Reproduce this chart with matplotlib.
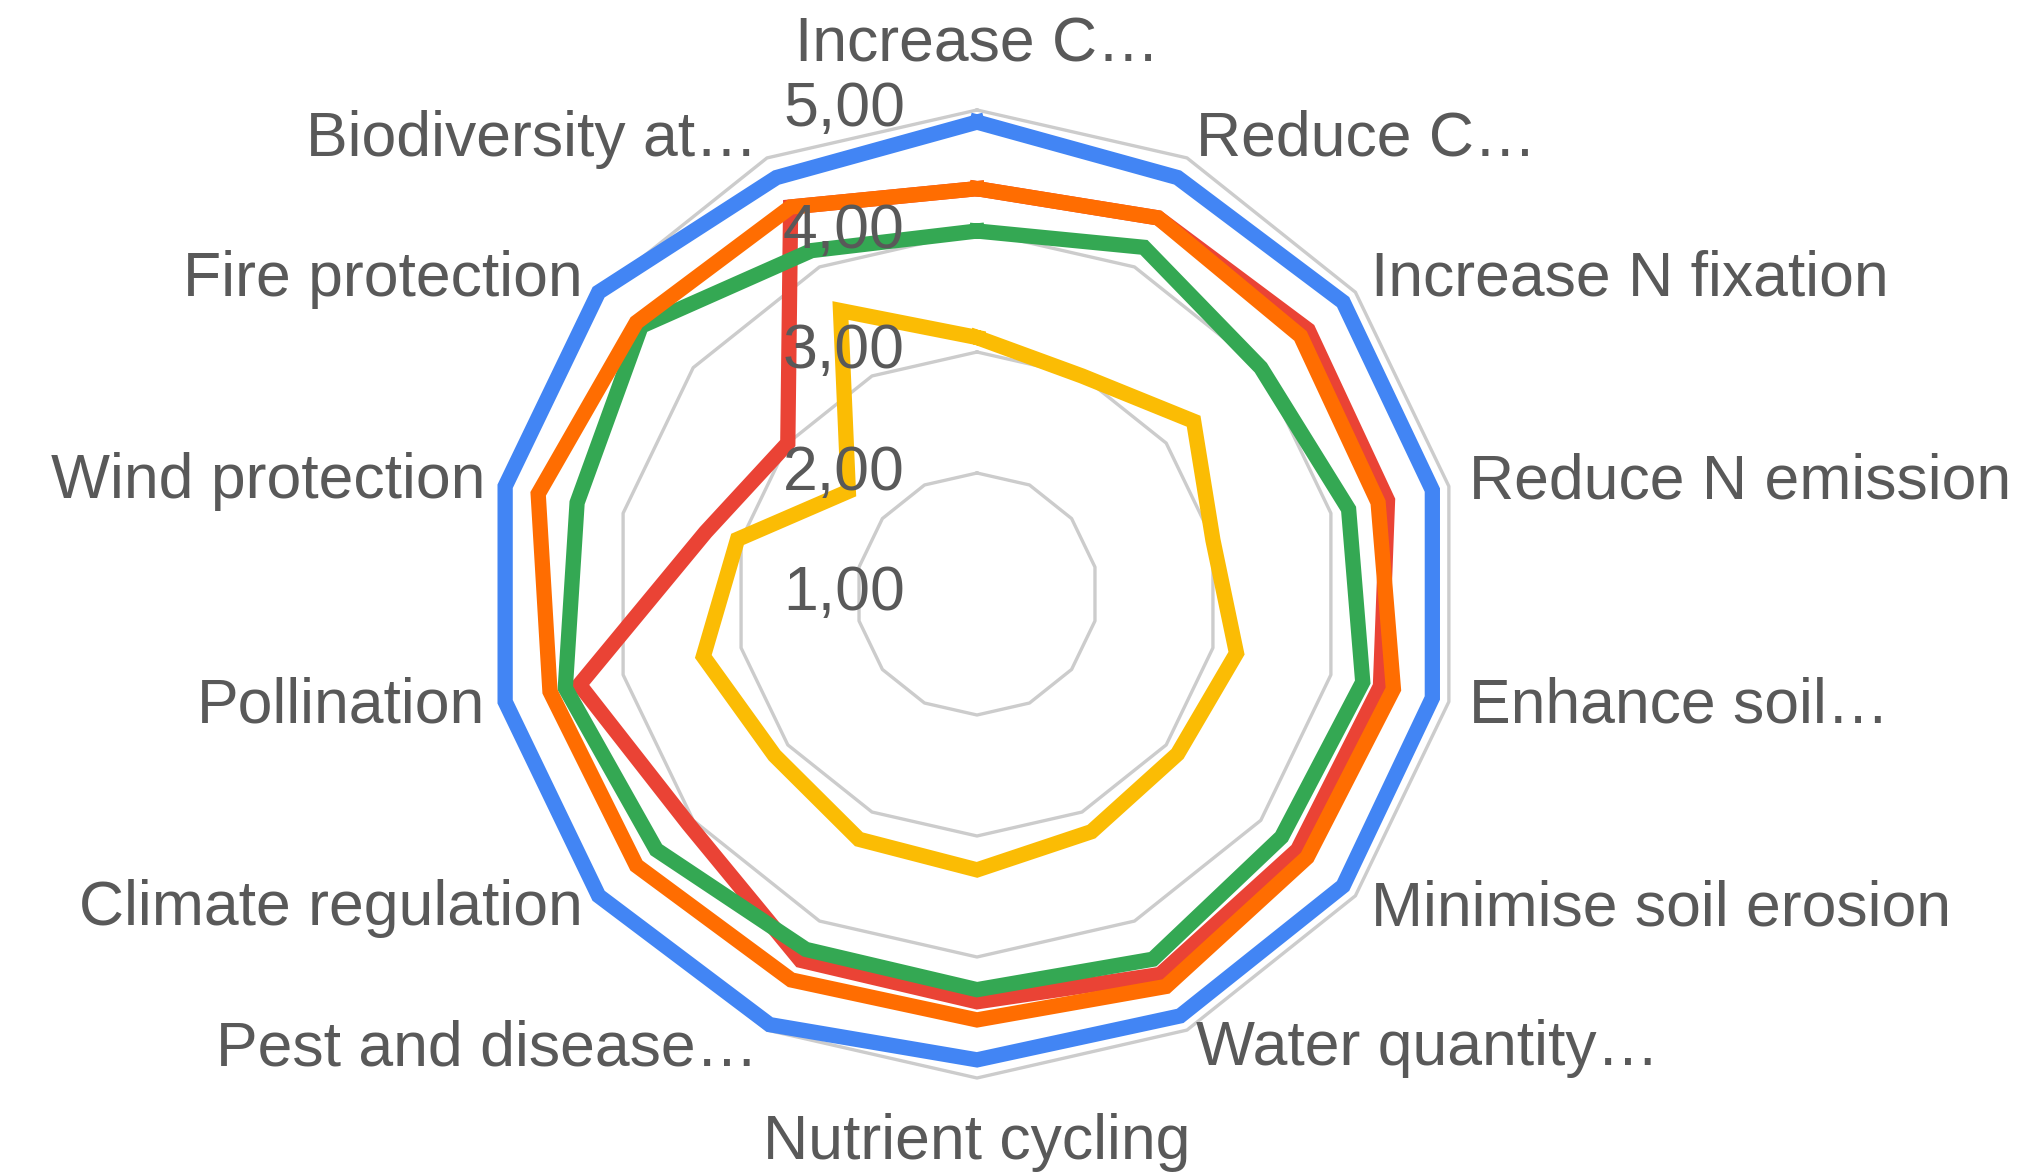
import numpy as np
import matplotlib.pyplot as plt

plt.rcParams['font.family'] = ['Liberation Sans', 'DejaVu Sans']

categories = ["Increase C…", "Reduce C…", "Increase N fixation", "Reduce N emission",
              "Enhance soil…", "Minimise soil erosion", "Water quantity…", "Nutrient cycling",
              "Pest and disease…", "Climate regulation", "Pollination", "Wind protection",
              "Fire protection", "Biodiversity at…"]

blue = [4.90, 4.82, 4.87, 4.86, 4.86, 4.87, 4.87, 4.85, 4.95, 5.00, 5.00, 5.00, 5.00, 4.82]
red = [4.35, 4.45, 4.50, 4.48, 4.42, 4.39, 4.49, 4.37, 4.36, 4.05, 4.37, 3.30, 3.00, 4.55]
yellow = [3.12, 3.00, 3.29, 3.00, 3.20, 3.12, 3.18, 3.28, 3.25, 3.14, 3.32, 3.03, 2.36, 3.60]
green = [4.00, 4.18, 4.00, 4.15, 4.27, 4.22, 4.35, 4.27, 4.26, 4.39, 4.49, 4.39, 4.55, 4.15]
orange = [4.35, 4.45, 4.42, 4.40, 4.53, 4.49, 4.60, 4.52, 4.54, 4.60, 4.62, 4.72, 4.60, 4.55]

grid_levels = [2, 3, 4, 5]
tick_values = [1, 2, 3, 4, 5]
tick_labels = ["1,00", "2,00", "3,00", "4,00", "5,00"]

# drawing order as in the sheet: orange ends up on top
series = [(blue, "#4285F4"), (red, "#EA4335"), (yellow, "#FBBC04"),
          (green, "#34A853"), (orange, "#FF6D01")]

W, H = 2043, 1173
cx, cy, R = 977, 594, 484   # centre and radius of the 5,00 ring in pixels

fig = plt.figure(figsize=(W / 100, H / 100), dpi=100)
ax = fig.add_axes([(cx - R) / W, (H - cy - R) / H, 2 * R / W, 2 * R / H], projection='polar')
ax.set_theta_zero_location('N')
ax.set_theta_direction(-1)
ax.set_ylim(1, 5)
ax.axis('off')

n = len(categories)
ang = np.arange(n) * 2 * np.pi / n
ang_c = np.append(ang, ang[0])

for lev in grid_levels:
    ax.plot(ang_c, [lev] * (n + 1), color='#cccccc', lw=2.4, zorder=1, clip_on=False)

for vals, col in series:
    ax.plot(ang_c, vals + vals[:1], color=col, lw=11, zorder=2, clip_on=False,
            solid_joinstyle='miter')

for v, lab in zip(tick_values, tick_labels):
    ax.annotate(lab, xy=(0, v), xytext=(-72, 0), textcoords='offset pixels',
                ha='right', va='center', fontsize=45, color='#595959', zorder=3,
                annotation_clip=False)

label_r = 5.17
for a, lab in zip(ang, categories):
    s, c = np.sin(a), np.cos(a)
    ha = 'left' if s > 0.01 else ('right' if s < -0.01 else 'center')
    va = 'bottom' if c > 0.99 else ('top' if c < -0.99 else 'center')
    r = label_r + (0.12 if abs(c) > 0.99 else 0)
    ax.text(a, r, lab, ha=ha, va=va, fontsize=45, color='#595959', clip_on=False)

fig.savefig('out.png', dpi=100)
